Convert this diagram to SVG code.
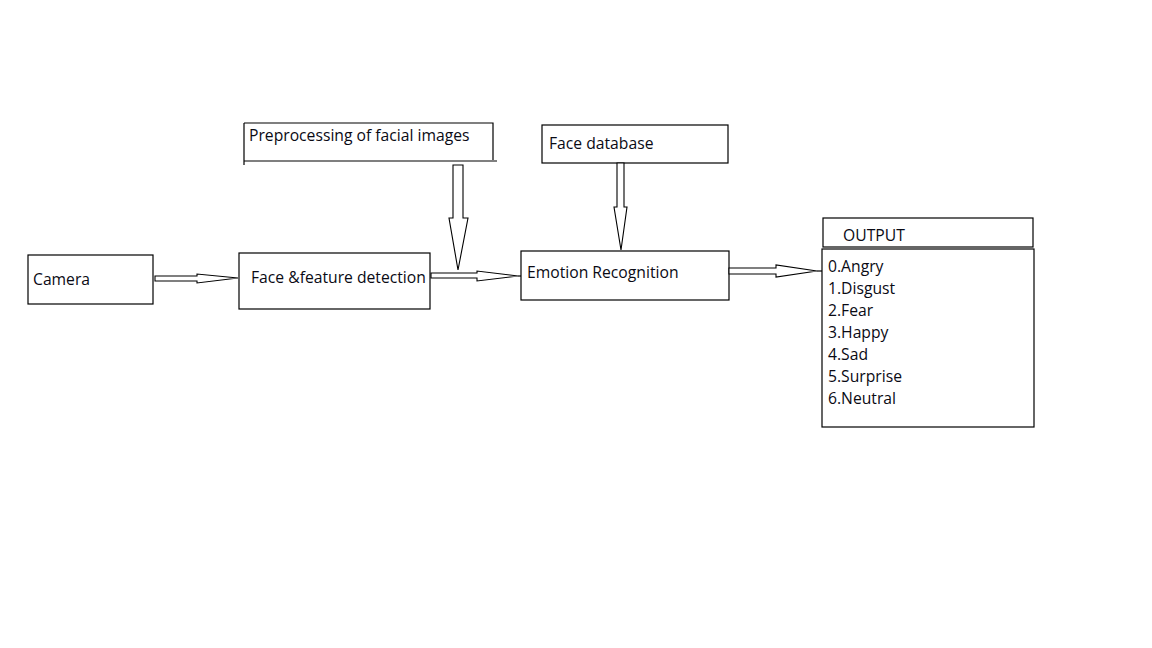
<svg xmlns="http://www.w3.org/2000/svg" width="1152" height="648" viewBox="0 0 1152 648">
<style>
.box{fill:#fff;stroke:#000;stroke-width:1.2}
.ln{fill:none;stroke:#000;stroke-width:1.2}
.arr{fill:#fff;stroke:#000;stroke-width:1.1;stroke-linejoin:miter}
.t{font-family:"Open Sans","Noto Sans","Liberation Sans",sans-serif;font-size:15.7px;fill:#0a0a14}
</style>
<rect width="1152" height="648" fill="#fff"/>
<g id="camera">
<rect class="box" x="28" y="255" width="125" height="49"/>
<text class="t" x="33" y="285">Camera</text>
</g>
<g id="face-feature-detection">
<rect class="box" x="239" y="253" width="191" height="56"/>
<text class="t" x="251" y="283">Face &amp;feature detection</text>
</g>
<g id="preprocessing">
<path class="ln" d="M244,123 V165 M244,123 H493 V160 M244,161 H497"/>
<text class="t" x="249" y="141">Preprocessing of facial images</text>
</g>
<g id="face-database">
<rect class="box" x="542" y="125" width="186" height="38"/>
<text class="t" x="549" y="149">Face database</text>
</g>
<g id="emotion-recognition">
<rect class="box" x="521" y="251" width="208" height="49"/>
<text class="t" x="527" y="278">Emotion Recognition</text>
</g>
<g id="output">
<rect class="box" x="823" y="218" width="210" height="29"/>
<text class="t" x="843" y="241">OUTPUT</text>
<rect class="box" x="822" y="249" width="212" height="178"/>
<text class="t" x="828" y="272">0.Angry</text>
<text class="t" x="828" y="294">1.Disgust</text>
<text class="t" x="828" y="316">2.Fear</text>
<text class="t" x="828" y="338">3.Happy</text>
<text class="t" x="828" y="360">4.Sad</text>
<text class="t" x="828" y="382">5.Surprise</text>
<text class="t" x="828" y="404">6.Neutral</text>
</g>
<g id="connectors">
<polygon class="arr" points="155,276 197,276 197,274 238,278 197,283 197,281 155,281"/>
<polygon class="arr" points="453,165 463,165 463,218 468,218 458,270 449,218 453,218"/>
<polygon class="arr" points="431,273 477,273 477,271 518,276 477,281 477,278 431,278"/>
<line class="ln" x1="518" y1="276" x2="521" y2="276"/>
<polygon class="arr" points="617,163 624,163 624,207 627,207 621,250 614,207 617,207"/>
<polygon class="arr" points="729,268 776,268 776,265 817,271 776,277 776,274 729,274"/>
<line class="ln" x1="817" y1="271" x2="822" y2="271"/>
</g>
</svg>
